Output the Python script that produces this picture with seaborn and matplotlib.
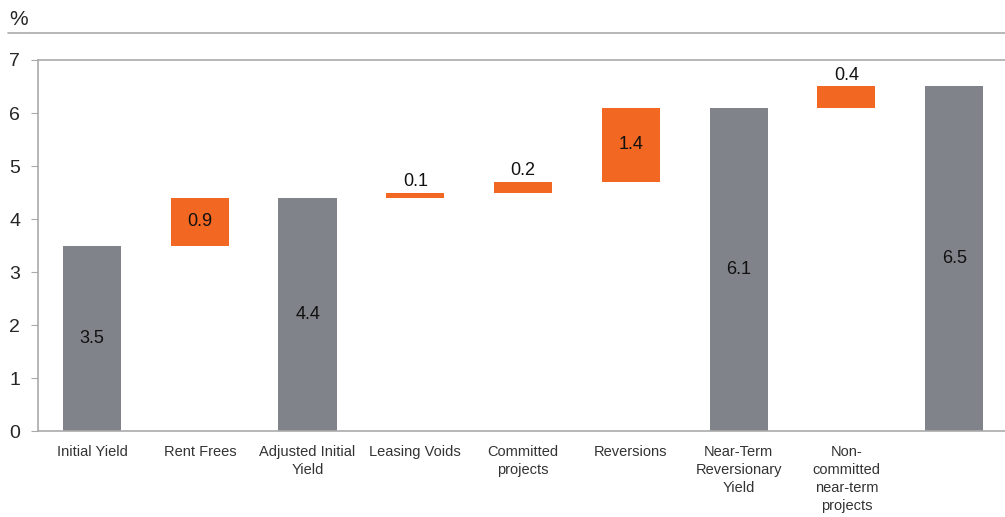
import numpy as np
import pandas as pd
import matplotlib
matplotlib.use("Agg")
import matplotlib.pyplot as plt
from matplotlib.lines import Line2D
import seaborn as sns

categories = ["Initial Yield", "Rent Frees", "Adjusted Initial\nYield", "Leasing Voids",
              "Committed\nprojects", "Reversions", "Near-Term\nReversionary\nYield",
              "Non-\ncommitted\nnear-term\nprojects", ""]
values = [3.5, 0.9, 4.4, 0.1, 0.2, 1.4, 6.1, 0.4, 6.5]
is_total = [True, False, True, False, False, False, True, False, True]
labels = ["3.5", "0.9", "4.4", "0.1", "0.2", "1.4", "6.1", "0.4", "6.5"]

GREY = "#808389"
ORANGE = "#F26722"

# running base for the step bars
base = []
level = 0.0
for v, t in zip(values, is_total):
    if t:
        base.append(0.0)
        level = v
    else:
        base.append(level)
        level += v

df = pd.DataFrame({"cat": categories, "val": values, "total": is_total, "base": base})
df["key"] = [f"c{i}" for i in range(len(df))]
order = list(df["key"])

sns.set_style("white")
plt.rcParams["font.family"] = ["Liberation Sans", "DejaVu Sans"]

fig = plt.figure(figsize=(10.05, 5.17), dpi=100)
ax = fig.add_axes([0.038, 0.166, 0.965, 0.718])

tot = df[df["total"]]
chg = df[~df["total"]]
sns.barplot(data=tot, x="key", y="val", order=order, color=GREY, width=0.54,
            saturation=1, ax=ax, linewidth=0)
sns.barplot(data=chg, x="key", y="val", order=order, color=ORANGE, width=0.54,
            saturation=1, ax=ax, linewidth=0, bottom=chg["base"].values)

for i, row in df.iterrows():
    if row["val"] >= 0.5:
        ax.text(i, row["base"] + row["val"] / 2, labels[i], ha="center", va="center",
                fontsize=13, color="#111111")
    else:
        ax.text(i, row["base"] + row["val"] + 0.05, labels[i], ha="center", va="bottom",
                fontsize=13, color="#111111")

ax.set_xlim(-0.5, 8.5)
ax.set_ylim(0, 7)
ax.set_yticks(range(8))
ax.set_xticks(range(len(categories)))
ax.set_xticklabels(categories, fontsize=10.5, color="#333333", linespacing=1.35)
ax.set_xticks(np.arange(-0.5, 8.5, 1), minor=True)
ax.tick_params(axis="x", which="major", length=0, pad=10)
ax.tick_params(axis="x", which="minor", length=5, color="#aaaaaa", direction="out")
ax.tick_params(axis="y", length=5, color="#aaaaaa", labelsize=14, pad=8, left=True)
ax.set_xlabel("")
ax.set_ylabel("")
for s in ["left", "bottom", "top"]:
    ax.spines[s].set_color("#aaaaaa")
    ax.spines[s].set_linewidth(1.2)
ax.spines["right"].set_visible(False)

fig.text(0.009, 0.962, "%", fontsize=15, va="center", ha="left")
fig.add_artist(Line2D([0.008, 1.0], [0.936, 0.936], transform=fig.transFigure,
                      color="#aaaaaa", linewidth=1.2))

fig.savefig("out.png", dpi=100)
